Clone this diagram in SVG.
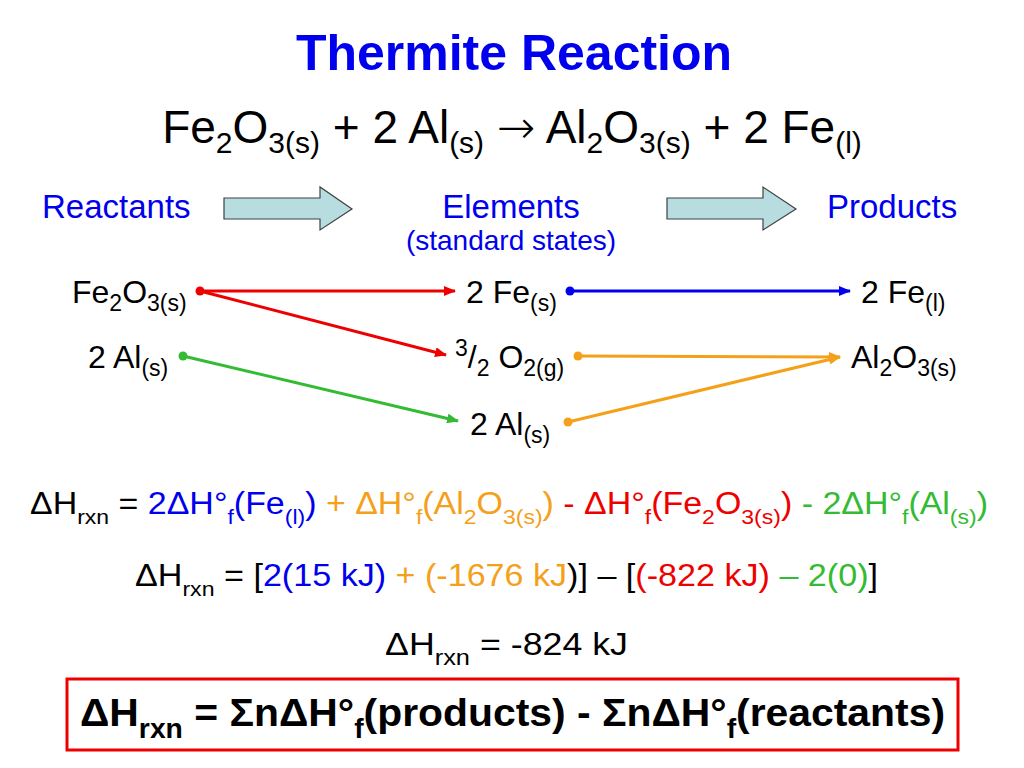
<svg xmlns="http://www.w3.org/2000/svg" width="1024" height="768" viewBox="0 0 1024 768">
<style>
text{font-family:"Liberation Sans",Arial,sans-serif;fill:#000}
.blue{fill:#0000ee}.org{fill:#f5a01a}.red{fill:#ee0000}.grn{fill:#33bb33}.blk{fill:#000}
.lbl{font-size:33px;fill:#0000ee}
.node{font-size:32px}
.eq{font-size:46px}
.blk-arrow{fill:#b7dde0;stroke:#404040;stroke-width:1.2}
.conn{stroke-width:3;fill:none}
</style>
<defs>
<marker id="ar" markerUnits="userSpaceOnUse" markerWidth="12" markerHeight="10" refX="11" refY="5" orient="auto"><path d="M0,0 L12,5 L0,10 z" fill="#ee0000"/></marker>
<marker id="ab" markerUnits="userSpaceOnUse" markerWidth="12" markerHeight="10" refX="11" refY="5" orient="auto"><path d="M0,0 L12,5 L0,10 z" fill="#0000ee"/></marker>
<marker id="ao" markerUnits="userSpaceOnUse" markerWidth="12" markerHeight="10" refX="11" refY="5" orient="auto"><path d="M0,0 L12,5 L0,10 z" fill="#f5a01a"/></marker>
<marker id="ag" markerUnits="userSpaceOnUse" markerWidth="12" markerHeight="10" refX="11" refY="5" orient="auto"><path d="M0,0 L12,5 L0,10 z" fill="#33bb33"/></marker>
</defs>
<rect width="1024" height="768" fill="#fff"/>

<g id="title"><text x="514" y="70" text-anchor="middle" font-size="50" font-weight="bold" class="blue">Thermite Reaction</text></g>

<g id="equation"><text x="512" y="143" text-anchor="middle" class="eq">Fe<tspan font-size="30" dy="10">2</tspan><tspan dy="-10">O</tspan><tspan font-size="30" dy="10">3(s)</tspan><tspan dy="-10"> + 2 Al</tspan><tspan font-size="30" dy="10">(s)</tspan><tspan dy="-10">  </tspan><tspan font-family="DejaVu Sans, sans-serif" font-weight="200">→</tspan><tspan>  Al</tspan><tspan font-size="30" dy="10">2</tspan><tspan dy="-10">O</tspan><tspan font-size="30" dy="10">3(s)</tspan><tspan dy="-10"> + 2 Fe</tspan><tspan font-size="30" dy="10">(l)</tspan></text></g>

<g id="headers">
<text x="42" y="218" class="lbl">Reactants</text>
<text x="511" y="218" text-anchor="middle" class="lbl">Elements</text>
<text x="511" y="250" text-anchor="middle" font-size="28" class="blue">(standard states)</text>
<text x="827" y="218" class="lbl">Products</text>
</g>

<g id="block-arrows">
<polygon class="blk-arrow" points="224,198 320,198 320,187 352,209 320,230 320,219 224,219"/>
<polygon class="blk-arrow" points="667,198 763,198 763,187 796,209 763,230 763,219 667,219"/>
</g>

<g id="connectors">
<line class="conn" stroke="#ee0000" x1="200" y1="291" x2="455" y2="291" marker-end="url(#ar)"/>
<line class="conn" stroke="#ee0000" x1="200" y1="291" x2="446" y2="355" marker-end="url(#ar)"/>
<line class="conn" stroke="#33bb33" x1="183" y1="356" x2="458" y2="421" marker-end="url(#ag)"/>
<line class="conn" stroke="#0000ee" x1="570" y1="291" x2="850" y2="291" marker-end="url(#ab)"/>
<line class="conn" stroke="#f5a01a" x1="578" y1="356" x2="840" y2="357" marker-end="url(#ao)"/>
<line class="conn" stroke="#f5a01a" x1="568" y1="422" x2="840" y2="357" marker-end="url(#ao)"/>
<circle cx="200" cy="291" r="4.5" fill="#ee0000"/>
<circle cx="183" cy="356" r="4.5" fill="#33bb33"/>
<circle cx="570" cy="291" r="4.5" fill="#0000ee"/>
<circle cx="578" cy="356" r="4.5" fill="#f5a01a"/>
<circle cx="568" cy="422" r="4.5" fill="#f5a01a"/>
</g>

<g id="node-fe2o3"><text x="72" y="303" class="node">Fe<tspan font-size="23" dy="8">2</tspan><tspan dy="-8">O</tspan><tspan font-size="23" dy="8">3(s)</tspan></text></g>
<g id="node-al-r"><text x="88" y="368" class="node">2 Al<tspan font-size="23" dy="8">(s)</tspan></text></g>
<g id="node-fe-s"><text x="466" y="303" class="node">2 Fe<tspan font-size="23" dy="8">(s)</tspan></text></g>
<g id="node-o2"><text x="455" y="368" class="node"><tspan font-size="23" dy="-12">3</tspan><tspan dy="12">/</tspan><tspan font-size="23" dy="8">2</tspan><tspan dy="-8"> O</tspan><tspan font-size="23" dy="8">2(g)</tspan></text></g>
<g id="node-al-s"><text x="470" y="435" class="node">2 Al<tspan font-size="23" dy="8">(s)</tspan></text></g>
<g id="node-fe-l"><text x="861" y="303" class="node">2 Fe<tspan font-size="23" dy="8">(l)</tspan></text></g>
<g id="node-al2o3"><text x="851" y="368" class="node">Al<tspan font-size="23" dy="8">2</tspan><tspan dy="-8">O</tspan><tspan font-size="23" dy="8">3(s)</tspan></text></g>

<g id="formula1"><text x="30" y="514" font-size="31" textLength="958" lengthAdjust="spacingAndGlyphs">ΔH<tspan font-size="21" dy="10">rxn</tspan><tspan dy="-10"> = </tspan><tspan class="blue">2ΔH°</tspan><tspan class="blue" font-size="21" dy="10">f</tspan><tspan class="blue" dy="-10">(Fe</tspan><tspan class="blue" font-size="21" dy="10">(l)</tspan><tspan class="blue" dy="-10">)</tspan><tspan class="org"> + ΔH°</tspan><tspan class="org" font-size="21" dy="10">f</tspan><tspan class="org" dy="-10">(Al</tspan><tspan class="org" font-size="21" dy="10">2</tspan><tspan class="org" dy="-10">O</tspan><tspan class="org" font-size="21" dy="10">3(s)</tspan><tspan class="org" dy="-10">)</tspan><tspan class="red"> - ΔH°</tspan><tspan class="red" font-size="21" dy="10">f</tspan><tspan class="red" dy="-10">(Fe</tspan><tspan class="red" font-size="21" dy="10">2</tspan><tspan class="red" dy="-10">O</tspan><tspan class="red" font-size="21" dy="10">3(s)</tspan><tspan class="red" dy="-10">)</tspan><tspan class="grn"> - 2ΔH°</tspan><tspan class="grn" font-size="21" dy="10">f</tspan><tspan class="grn" dy="-10">(Al</tspan><tspan class="grn" font-size="21" dy="10">(s)</tspan><tspan class="grn" dy="-10">)</tspan></text></g>

<g id="formula2"><text x="135" y="586" font-size="31" textLength="743" lengthAdjust="spacingAndGlyphs">ΔH<tspan font-size="21" dy="10">rxn</tspan><tspan dy="-10"> = [</tspan><tspan class="blue">2(15 kJ)</tspan><tspan class="org"> + (-1676 kJ</tspan><tspan class="blk">)] – [</tspan><tspan class="red">(-822 kJ)</tspan><tspan class="grn"> – 2(0)</tspan><tspan class="blk">]</tspan></text></g>

<g id="formula3"><text x="385" y="655" font-size="31" textLength="243" lengthAdjust="spacingAndGlyphs">ΔH<tspan font-size="22" dy="10">rxn</tspan><tspan dy="-10"> = -824 kJ</tspan></text></g>

<g id="summary">
<rect x="67" y="679" width="891" height="71" fill="#fff" stroke="#ee0000" stroke-width="3"/>
<text x="80" y="726" font-size="39" font-weight="bold" textLength="865" lengthAdjust="spacingAndGlyphs">ΔH<tspan font-size="27" dy="12">rxn</tspan><tspan dy="-12"> = ΣnΔH°</tspan><tspan font-size="27" dy="12">f</tspan><tspan dy="-12">(products) - ΣnΔH°</tspan><tspan font-size="27" dy="12">f</tspan><tspan dy="-12">(reactants)</tspan></text>
</g>
</svg>
